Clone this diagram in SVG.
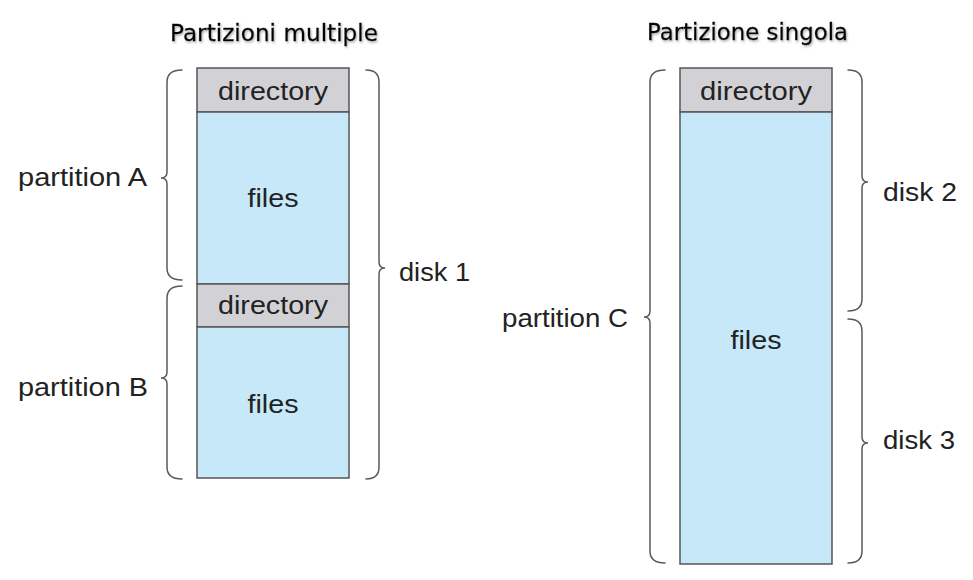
<svg xmlns="http://www.w3.org/2000/svg" width="973" height="580" viewBox="0 0 973 580">
  <style>
    .lbl { font-family: "Liberation Sans", Arial, sans-serif; font-size: 26px; fill: #222; }
    .ttl { font-family: "DejaVu Sans", Tahoma, sans-serif; font-size: 23px; fill: #000; stroke: #000; stroke-width: 0.35px; }
    .dir { fill: #d2d2d6; stroke: #555; stroke-width: 1.5; }
    .files { fill: #c6e8f8; stroke: #555; stroke-width: 1.5; }
    .brace { fill: none; stroke: #5a5a5a; stroke-width: 1.5; stroke-linecap: round; }
  </style>
  <defs>
    <filter id="shadow" x="-10%" y="-30%" width="120%" height="160%">
      <feDropShadow dx="1" dy="1.5" stdDeviation="1" flood-color="#888" flood-opacity="0.7"/>
    </filter>
  </defs>
  <rect width="973" height="580" fill="#fff"/>

  <g id="title-multiple">
    <text class="ttl" x="170" y="41" textLength="208" lengthAdjust="spacingAndGlyphs" filter="url(#shadow)">Partizioni multiple</text>
  </g>
  <g id="title-single">
    <text class="ttl" x="647" y="40" textLength="201" lengthAdjust="spacingAndGlyphs" filter="url(#shadow)">Partizione singola</text>
  </g>

  <g id="disk1-partA-directory">
    <rect class="dir" x="197" y="68" width="152" height="44"/>
    <text class="lbl" x="273" y="100" text-anchor="middle" textLength="110" lengthAdjust="spacingAndGlyphs">directory</text>
  </g>
  <g id="disk1-partA-files">
    <rect class="files" x="197" y="112" width="152" height="172"/>
    <text class="lbl" x="273" y="207" text-anchor="middle" textLength="51" lengthAdjust="spacingAndGlyphs">files</text>
  </g>
  <g id="disk1-partB-directory">
    <rect class="dir" x="197" y="284" width="152" height="43"/>
    <text class="lbl" x="273" y="314" text-anchor="middle" textLength="110" lengthAdjust="spacingAndGlyphs">directory</text>
  </g>
  <g id="disk1-partB-files">
    <rect class="files" x="197" y="327" width="152" height="151"/>
    <text class="lbl" x="273" y="413" text-anchor="middle" textLength="51" lengthAdjust="spacingAndGlyphs">files</text>
  </g>

  <g id="partC-directory">
    <rect class="dir" x="680" y="68" width="152" height="44"/>
    <text class="lbl" x="756" y="100" text-anchor="middle" textLength="112" lengthAdjust="spacingAndGlyphs">directory</text>
  </g>
  <g id="partC-files">
    <rect class="files" x="680" y="112" width="152" height="452"/>
    <text class="lbl" x="756" y="349" text-anchor="middle" textLength="51" lengthAdjust="spacingAndGlyphs">files</text>
  </g>

  <g id="connectors">
    <path class="brace" d="M182,70 Q167,70 167,82 L167,172 Q167,178 161,178 Q167,178 167,184 L167,268 Q167,280 182,280"/>
    <path class="brace" d="M182,286 Q167,286 167,298 L167,372 Q167,378 161,378 Q167,378 167,384 L167,467 Q167,479 182,479"/>
    <path class="brace" d="M366,70 Q379,70 379,82 L379,262 Q379,268 385,268 Q379,268 379,274 L379,467 Q379,479 366,479"/>
    <path class="brace" d="M665,70 Q650,70 650,82 L650,311 Q650,317 644,317 Q650,317 650,323 L650,551 Q650,563 665,563"/>
    <path class="brace" d="M848,70 Q862,70 862,82 L862,176 Q862,182 868,182 Q862,182 862,188 L862,299 Q862,311 848,311"/>
    <path class="brace" d="M848,319 Q862,319 862,331 L862,437 Q862,443 868,443 Q862,443 862,449 L862,551 Q862,563 848,563"/>
  </g>

  <g id="label-partA"><text class="lbl" x="18" y="186" textLength="129" lengthAdjust="spacingAndGlyphs">partition A</text></g>
  <g id="label-partB"><text class="lbl" x="18" y="396" textLength="130" lengthAdjust="spacingAndGlyphs">partition B</text></g>
  <g id="label-disk1"><text class="lbl" x="399" y="281" textLength="71" lengthAdjust="spacingAndGlyphs">disk 1</text></g>
  <g id="label-partC"><text class="lbl" x="502" y="327" textLength="126" lengthAdjust="spacingAndGlyphs">partition C</text></g>
  <g id="label-disk2"><text class="lbl" x="883" y="201" textLength="74" lengthAdjust="spacingAndGlyphs">disk 2</text></g>
  <g id="label-disk3"><text class="lbl" x="883" y="449" textLength="72" lengthAdjust="spacingAndGlyphs">disk 3</text></g>
</svg>
